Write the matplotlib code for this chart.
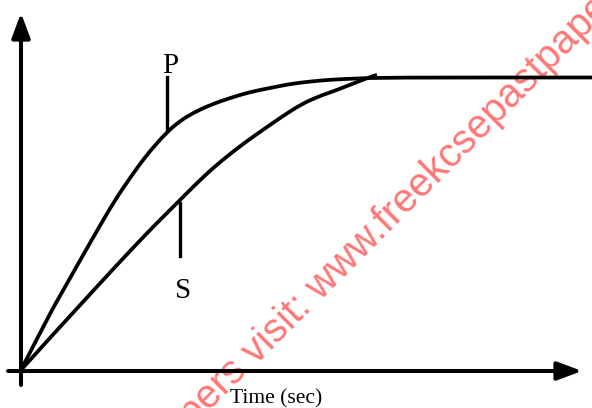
import matplotlib
matplotlib.use("Agg")
import matplotlib.pyplot as plt
from matplotlib.path import Path
from matplotlib.patches import PathPatch

# curve P
p_time = [0, 0.54, 0.88, 1.22, 1.54, 1.88, 2.18, 2.38, 2.58, 2.92, 3.18, 3.44, 3.78,
          4.18, 4.58, 4.98, 5.38, 5.78, 6.24, 6.72, 7.24, 11.42]
p_value = [0, 1.06, 1.66, 2.26, 2.82, 3.40, 3.84, 4.12, 4.38, 4.76, 4.98, 5.14, 5.30,
           5.44, 5.56, 5.64, 5.72, 5.77, 5.81, 5.83, 5.85, 5.85]

# curve S
s_time = [0, 0.54, 1.22, 1.88, 2.54, 2.88, 3.22, 3.52, 3.84, 4.18, 4.52, 4.92, 5.24,
          5.58, 5.92, 6.32, 6.72, 7.04, 7.12]
s_value = [0, 0.60, 1.34, 2.06, 2.76, 3.10, 3.44, 3.74, 4.04, 4.32, 4.58, 4.86, 5.08,
           5.30, 5.46, 5.60, 5.76, 5.88, 5.90]

# label markers: (time, start, end)
p_mark = (2.92, 4.80, 5.86)
s_mark = (3.18, 3.34, 2.28)

x_label = "Time (sec)"
watermark_left = "For more free papers "
watermark_right = "visit: www.freekcsepastpapers.com"


def smooth_path(xs, ys):
    #quadratic bezier through midpoints so the sketch curves look smooth
    pts = list(zip(xs, ys))
    verts = [pts[0]]
    codes = [Path.MOVETO]
    for i in range(1, len(pts) - 1):
        mid = ((pts[i][0] + pts[i + 1][0]) / 2, (pts[i][1] + pts[i + 1][1]) / 2)
        verts += [pts[i], mid]
        codes += [Path.CURVE3, Path.CURVE3]
    verts.append(pts[-1])
    codes.append(Path.LINETO)
    return Path(verts, codes)


def draw_axes(ax):
    #arrows for the two axes
    style = "-|>,head_length=0.75,head_width=0.28"
    ax.annotate("", xy=(0, 7.14), xytext=(0, -0.30),
                arrowprops=dict(arrowstyle=style, lw=2.9, color="black",
                                mutation_scale=20, shrinkA=0, shrinkB=0))
    ax.annotate("", xy=(11.22, -0.02), xytext=(-0.26, -0.02),
                arrowprops=dict(arrowstyle=style, lw=2.9, color="black",
                                mutation_scale=20, shrinkA=0, shrinkB=0))


def draw_curves(ax):
    for xs, ys in [(p_time, p_value), (s_time, s_value)]:
        ax.add_patch(PathPatch(smooth_path(xs, ys), fill=False, edgecolor="black",
                               lw=2.7, joinstyle="round", capstyle="butt", zorder=3))

    #little marker lines with letters
    ax.plot([p_mark[0], p_mark[0]], [p_mark[1], p_mark[2]], color="black", lw=2.4, zorder=3)
    ax.plot([s_mark[0], s_mark[0]], [s_mark[1], s_mark[2]], color="black", lw=2.4, zorder=3)
    ax.text(2.98, 5.94, "P", fontsize=21, family="Liberation Serif",
            ha="center", va="baseline")
    ax.text(3.24, 1.44, "S", fontsize=21, family="Liberation Serif",
            ha="center", va="baseline")
    ax.text(5.1, -0.66, x_label, fontsize=15.5, family="Liberation Serif",
            ha="center", va="baseline")


def draw_watermark(ax):
    for txt, ha in [(watermark_left, "right"), (watermark_right, "left")]:
        ax.text(4.70, 0.10, txt, fontsize=28.8, family="Liberation Sans",
                color="#ff7676", rotation=45, rotation_mode="anchor",
                ha=ha, va="baseline", zorder=1)


def main():
    fig = plt.figure(figsize=(5.92, 4.08), dpi=100)
    ax = fig.add_axes([0, 0, 1, 1])
    ax.set_xlim(-0.42, 11.42)
    ax.set_ylim(-0.76, 7.40)
    ax.axis("off")

    draw_watermark(ax)
    draw_axes(ax)
    draw_curves(ax)

    fig.savefig("out.png", dpi=100)


if __name__ == '__main__':
    main()
